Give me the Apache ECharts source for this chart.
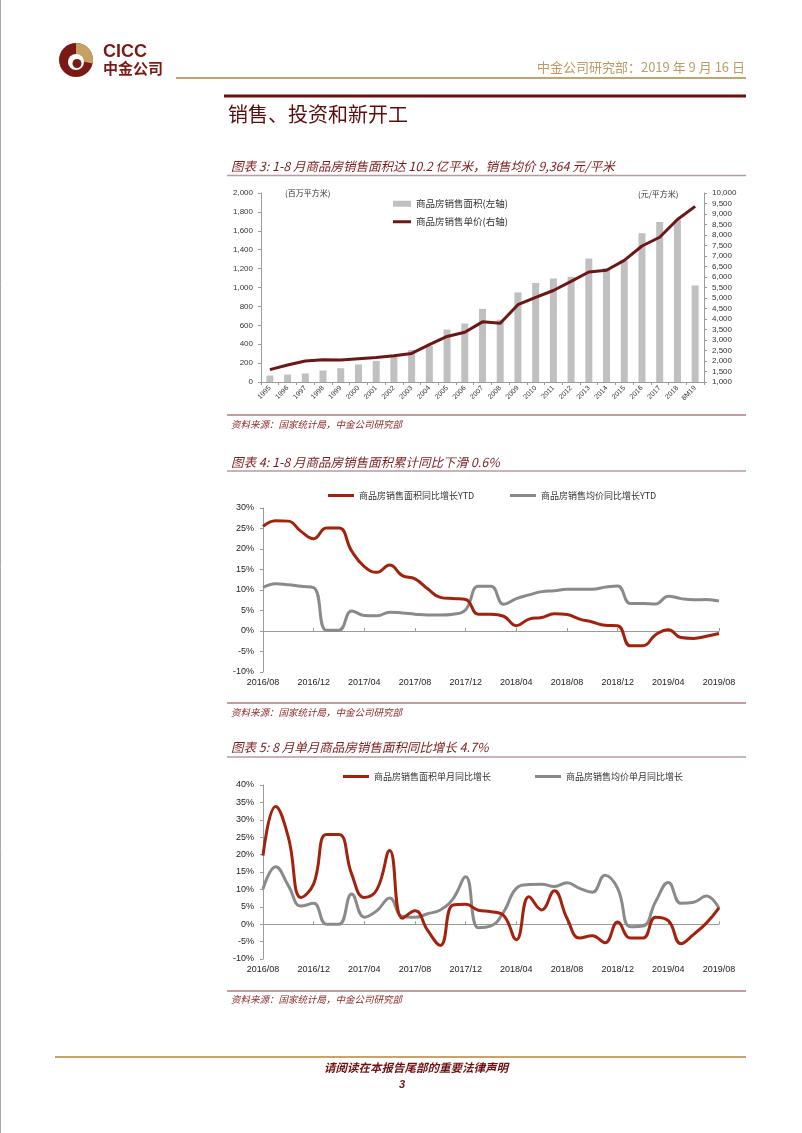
<!DOCTYPE html>
<html><head><meta charset="utf-8">
<script src="https://cdn.jsdelivr.net/npm/echarts@6/dist/echarts.min.js"></script>
<style>html,body{margin:0;padding:0;background:#fff}#c{width:802px;height:1133px}</style>
</head><body><div id="c"></div>
<script>
// ---------- data ----------
const years = ['1995','1996','1997','1998','1999','2000','2001','2002','2003','2004','2005','2006','2007','2008','2009','2010','2011','2012','2013','2014','2015','2016','2017','2018','8M19'];
const salesArea = [68, 79, 90, 122, 146, 186, 224, 268, 337, 382, 555, 619, 774, 660, 948, 1048, 1095, 1113, 1306, 1207, 1285, 1574, 1694, 1717, 1022];
const salesPrice = [1591, 1806, 1997, 2063, 2053, 2112, 2170, 2250, 2359, 2778, 3168, 3367, 3864, 3800, 4681, 5032, 5357, 5791, 6237, 6324, 6793, 7476, 7892, 8737, 9364];

const months = ['2016/08','2016/09','2016/10','2016/11','2016/12',
  '2017/01','2017/02','2017/03','2017/04','2017/05','2017/06','2017/07','2017/08','2017/09','2017/10','2017/11','2017/12',
  '2018/01','2018/02','2018/03','2018/04','2018/05','2018/06','2018/07','2018/08','2018/09','2018/10','2018/11','2018/12',
  '2019/01','2019/02','2019/03','2019/04','2019/05','2019/06','2019/07','2019/08'];
const ytdAreaYoY = [25.5, 26.9, 26.8, 24.3, 22.5,
  25.1, 25.1, 19.5, 15.7, 14.3, 16.1, 13.5, 12.7, 10.3, 8.2, 7.9, 7.7,
  4.1, 4.1, 3.6, 1.3, 2.9, 3.3, 4.2, 4.0, 2.9, 2.2, 1.4, 1.3,
  -3.6, -3.6, -0.9, 0.3, -1.6, -1.8, -1.3, -0.6];
const ytdPriceYoY = [10.6, 11.5, 11.3, 10.9, 10.6,
  0.2, 0.2, 4.9, 3.8, 3.7, 4.6, 4.4, 4.1, 3.9, 3.9, 4.1, 5.2,
  10.9, 10.9, 6.5, 7.9, 8.8, 9.6, 9.8, 10.2, 10.2, 10.2, 10.7, 11.0,
  6.7, 6.7, 6.6, 8.5, 7.9, 7.6, 7.7, 7.3];
const monthAreaYoY = [19.7, 33.8, 25.0, 7.7, 11.6,
  25.8, 25.8, 14.4, 7.7, 10.0, 21.2, 1.7, 3.9, -1.8, -6.1, 5.5, 5.7,
  4.0, 3.6, 2.5, -4.5, 7.9, 4.1, 9.6, 1.7, -4.0, -3.3, -5.3, 0.6,
  -4.0, -4.0, 2.0, 1.0, -5.6, -2.9, 0.3, 4.7];
const monthPriceYoY = [10.1, 16.5, 11.1, 5.2, 6.0,
  0.0, 0.0, 8.7, 2.0, 3.9, 7.5, 2.2, 2.0, 3.0, 4.1, 7.3, 13.6,
  -1.0, -0.5, 3.5, 10.3, 11.4, 11.5, 10.8, 11.9, 10.3, 9.2, 14.1, 10.3,
  -0.7, -0.5, 6.5, 12.0, 6.0, 6.3, 8.1, 4.6];

// ---------- styles ----------
const CJK = '"Noto Sans CJK SC", sans-serif';
const LAT = '"Liberation Sans", Arial, sans-serif';
const MAROON = '#6E1616';
const RED = '#A3220E';
const GRAY = '#8A8A8A';
const TITLE_RED = '#7B1C1C';
const AXIS_GRAY = '#9A9A9A';
const SMOOTH = 0.45;

function txt(x, y, text, font, fill, align) {
  return {type:'text', silent:true, style:{x:x, y:y, text:text, font:font, fill:fill,
    align:align||'left', textAlign:align||'left', verticalAlign:'middle', textVerticalAlign:'middle'}};
}
function hline(x1, x2, y, w, c) {
  return {type:'line', silent:true, shape:{x1:x1, y1:y, x2:x2, y2:y}, style:{stroke:c, lineWidth:w}};
}

const graphics = [
  {type:'line', silent:true, shape:{x1:0.5,y1:0,x2:0.5,y2:1133}, style:{stroke:'#A8A8A8', lineWidth:1}},
  // logo
  {type:'circle', silent:true, shape:{cx:76, cy:60, r:17}, style:{fill:'#7B1A14'}},
  {type:'sector', silent:true, shape:{cx:76, cy:60, r:17, r0:0, startAngle:-Math.PI/2, endAngle:0.2}, style:{fill:'#C7A064'}},
  {type:'circle', silent:true, shape:{cx:76, cy:62, r:8}, style:{fill:'#fff'}},
  {type:'circle', silent:true, shape:{cx:77, cy:63.5, r:4.5}, style:{fill:'#7B1A14'}},
  txt(103, 52, 'CICC', 'bold 18px ' + LAT, '#7B1A14'),
  txt(103, 68, '中金公司', 'bold 15px ' + CJK, '#7B1A14'),
  // header
  txt(745, 67, '中金公司研究部：2019 年 9 月 16 日', '13px ' + CJK, '#C09A63', 'right'),
  hline(176, 746, 78, 2, '#C8A26B'),
  hline(224, 746, 96, 3, '#6E1010'),
  txt(228, 114, '销售、投资和新开工', '20px ' + CJK, '#5C0E0E'),
  // chart 3 title
  txt(231, 166.5, '图表 3: 1-8 月商品房销售面积达 10.2 亿平米，销售均价 9,364 元/平米', 'italic 12.5px ' + CJK, TITLE_RED),
  hline(227, 746, 175.5, 1.5, '#B89AA0'),
  txt(285, 193, '(百万平方米)', '8px ' + CJK, '#333'),
  txt(638, 194, '(元/平方米)', '8px ' + CJK, '#333'),
  hline(227, 746, 415, 1.2, '#8E3A3A'),
  txt(231, 424, '资料来源：国家统计局，中金公司研究部', 'italic 9.5px ' + CJK, '#8B2A2A'),
  // chart 4 title
  txt(231, 462, '图表 4: 1-8 月商品房销售面积累计同比下滑 0.6%', 'italic 12.5px ' + CJK, TITLE_RED),
  hline(227, 746, 471, 1.5, '#B89AA0'),
  hline(227, 746, 703, 1.2, '#8E3A3A'),
  txt(231, 712, '资料来源：国家统计局，中金公司研究部', 'italic 9.5px ' + CJK, '#8B2A2A'),
  // chart 5 title
  txt(231, 747, '图表 5: 8 月单月商品房销售面积同比增长 4.7%', 'italic 12.5px ' + CJK, TITLE_RED),
  hline(227, 746, 757, 1.5, '#B89AA0'),
  hline(227, 746, 991, 1.2, '#8E3A3A'),
  txt(231, 999, '资料来源：国家统计局，中金公司研究部', 'italic 9.5px ' + CJK, '#8B2A2A'),
  // footer
  hline(55, 746, 1057, 2, '#C8A26B'),
  txt(324, 1068, '请阅读在本报告尾部的重要法律声明', 'italic bold 11.5px ' + CJK, '#6E1010'),
  txt(402, 1085, '3', 'italic bold 11px ' + LAT, '#6E1010', 'center')
];

const pctLabel = {fontSize:9, color:'#222', fontFamily:LAT, margin:9, formatter:'{value}%'};
const legText = {fontSize:9, color:'#333', fontFamily:CJK};

const option = {
  animation:false,
  backgroundColor:'#fff',
  grid:[
    {left:261, top:193, width:443, height:189},
    {left:263, top:508, width:456, height:164},
    {left:263, top:785, width:456, height:174}
  ],
  xAxis:[
    {gridIndex:0, type:'category', data:years,
      axisLine:{lineStyle:{color:AXIS_GRAY}}, axisTick:{show:true, length:3, lineStyle:{color:AXIS_GRAY}},
      axisLabel:{rotate:45, interval:0, fontSize:7, color:'#333', fontFamily:LAT, margin:5}},
    {gridIndex:1, type:'category', data:months, boundaryGap:false,
      axisLine:{show:false, onZero:false}, axisTick:{show:false},
      axisLabel:{interval:3, fontSize:9, color:'#222', fontFamily:LAT, margin:6}},
    {gridIndex:1, type:'category', data:months, boundaryGap:false,
      axisLine:{show:true, onZero:true, lineStyle:{color:AXIS_GRAY}},
      axisTick:{show:true, interval:3, length:3, lineStyle:{color:AXIS_GRAY}}, axisLabel:{show:false}},
    {gridIndex:2, type:'category', data:months, boundaryGap:false,
      axisLine:{show:false, onZero:false}, axisTick:{show:false},
      axisLabel:{interval:3, fontSize:9, color:'#222', fontFamily:LAT, margin:6}},
    {gridIndex:2, type:'category', data:months, boundaryGap:false,
      axisLine:{show:true, onZero:true, lineStyle:{color:AXIS_GRAY}},
      axisTick:{show:true, interval:3, length:3, lineStyle:{color:AXIS_GRAY}}, axisLabel:{show:false}}
  ],
  yAxis:[
    {gridIndex:0, type:'value', min:0, max:2000, interval:200,
      axisLine:{show:true, lineStyle:{color:AXIS_GRAY}}, axisTick:{show:true, length:3, lineStyle:{color:AXIS_GRAY}},
      splitLine:{show:false},
      axisLabel:{fontSize:8, color:'#333', fontFamily:LAT, margin:8, formatter:v=>v.toLocaleString('en-US')}},
    {gridIndex:0, type:'value', position:'right', min:1000, max:10000, interval:500,
      axisLine:{show:true, lineStyle:{color:AXIS_GRAY}}, axisTick:{show:true, length:3, lineStyle:{color:AXIS_GRAY}},
      splitLine:{show:false},
      axisLabel:{fontSize:8, color:'#333', fontFamily:LAT, margin:8, formatter:v=>v.toLocaleString('en-US')}},
    {gridIndex:1, type:'value', min:-10, max:30, interval:5,
      axisLine:{show:true, lineStyle:{color:AXIS_GRAY}}, axisTick:{show:true, length:3, lineStyle:{color:AXIS_GRAY}},
      splitLine:{show:false}, axisLabel:pctLabel},
    {gridIndex:2, type:'value', min:-10, max:40, interval:5,
      axisLine:{show:true, lineStyle:{color:AXIS_GRAY}}, axisTick:{show:true, length:3, lineStyle:{color:AXIS_GRAY}},
      splitLine:{show:false}, axisLabel:pctLabel}
  ],
  legend:[
    {data:['商品房销售面积(左轴)'], left:393, top:199, padding:0, itemWidth:18, itemHeight:6, icon:'rect', selectedMode:false, textStyle:Object.assign({}, legText, {fontSize:9.5})},
    {data:['商品房销售单价(右轴)'], left:393, top:217, padding:0, itemWidth:18, itemHeight:3, icon:'rect', selectedMode:false, textStyle:Object.assign({}, legText, {fontSize:9.5})},
    {data:['商品房销售面积同比增长YTD'], left:328, top:491, padding:0, itemWidth:26, itemHeight:3, icon:'rect', selectedMode:false, textStyle:legText},
    {data:['商品房销售均价同比增长YTD'], left:510, top:491, padding:0, itemWidth:26, itemHeight:3, icon:'rect', selectedMode:false, textStyle:legText},
    {data:['商品房销售面积单月同比增长'], left:343, top:772, padding:0, itemWidth:26, itemHeight:3, icon:'rect', selectedMode:false, textStyle:legText},
    {data:['商品房销售均价单月同比增长'], left:535, top:772, padding:0, itemWidth:26, itemHeight:3, icon:'rect', selectedMode:false, textStyle:legText}
  ],
  series:[
    {name:'商品房销售面积(左轴)', type:'bar', xAxisIndex:0, yAxisIndex:0, data:salesArea, barWidth:7,
      itemStyle:{color:'#C0C0C0'}},
    {name:'商品房销售单价(右轴)', type:'line', xAxisIndex:0, yAxisIndex:1, data:salesPrice, symbol:'none',
      lineStyle:{width:3, color:MAROON}, itemStyle:{color:MAROON}, z:5},
    {name:'商品房销售面积同比增长YTD', type:'line', xAxisIndex:1, yAxisIndex:2, data:ytdAreaYoY, symbol:'none', smooth:SMOOTH,
      lineStyle:{width:3, color:RED}, itemStyle:{color:RED}, z:4},
    {name:'商品房销售均价同比增长YTD', type:'line', xAxisIndex:1, yAxisIndex:2, data:ytdPriceYoY, symbol:'none', smooth:SMOOTH,
      lineStyle:{width:3, color:GRAY}, itemStyle:{color:GRAY}, z:3},
    {name:'商品房销售面积单月同比增长', type:'line', xAxisIndex:3, yAxisIndex:3, data:monthAreaYoY, symbol:'none', smooth:SMOOTH,
      lineStyle:{width:3, color:RED}, itemStyle:{color:RED}, z:4},
    {name:'商品房销售均价单月同比增长', type:'line', xAxisIndex:3, yAxisIndex:3, data:monthPriceYoY, symbol:'none', smooth:SMOOTH,
      lineStyle:{width:3, color:GRAY}, itemStyle:{color:GRAY}, z:3}
  ],
  graphic:graphics
};

const chart = echarts.init(document.getElementById('c'), null, {renderer:'canvas', width:802, height:1133});
chart.setOption(option);
</script>
</body></html>
